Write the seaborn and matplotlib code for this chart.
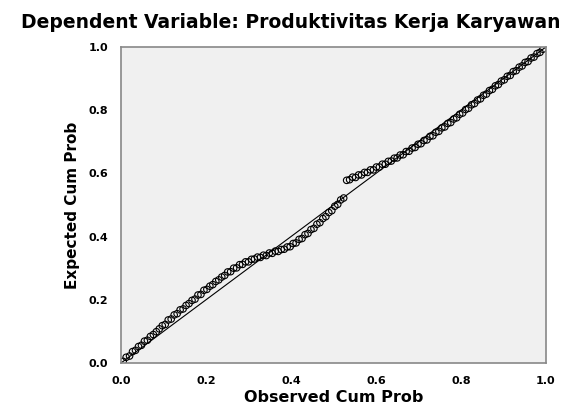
import numpy as np
import pandas as pd
import seaborn as sns
import matplotlib.pyplot as plt

# Normal P-P plot of regression standardized residual
observed = [0.005, 0.012, 0.020, 0.027, 0.034, 0.041, 0.048, 0.055, 0.062, 0.069,
            0.076, 0.083, 0.090, 0.097, 0.104, 0.111, 0.118, 0.125, 0.132, 0.139,
            0.146, 0.153, 0.160, 0.167, 0.174, 0.181, 0.188, 0.195, 0.202, 0.209,
            0.216, 0.223, 0.230, 0.237, 0.244, 0.251, 0.258, 0.265, 0.272, 0.279,
            0.286, 0.293, 0.300, 0.307, 0.314, 0.321, 0.328, 0.335, 0.342, 0.349,
            0.356, 0.363, 0.370, 0.377, 0.384, 0.391, 0.398, 0.405, 0.412, 0.419,
            0.426, 0.433, 0.440, 0.447, 0.454, 0.461, 0.468, 0.475, 0.482, 0.489,
            0.496, 0.503, 0.510, 0.517, 0.524, 0.531, 0.538, 0.545, 0.552, 0.559,
            0.566, 0.573, 0.580, 0.587, 0.594, 0.601, 0.608, 0.615, 0.622, 0.629,
            0.636, 0.643, 0.650, 0.657, 0.664, 0.671, 0.678, 0.685, 0.692, 0.699,
            0.706, 0.713, 0.720, 0.727, 0.734, 0.741, 0.748, 0.755, 0.762, 0.769,
            0.776, 0.783, 0.790, 0.797, 0.804, 0.811, 0.818, 0.825, 0.832, 0.839,
            0.846, 0.853, 0.860, 0.867, 0.874, 0.881, 0.888, 0.895, 0.902, 0.909,
            0.916, 0.923, 0.930, 0.937, 0.944, 0.951, 0.958, 0.965, 0.972, 0.979,
            0.986, 0.993]
expected = [0.005, 0.018, 0.022, 0.036, 0.040, 0.052, 0.056, 0.069, 0.072, 0.084,
            0.090, 0.099, 0.108, 0.118, 0.122, 0.136, 0.139, 0.152, 0.156, 0.168,
            0.171, 0.182, 0.188, 0.198, 0.202, 0.215, 0.217, 0.230, 0.233, 0.243,
            0.248, 0.258, 0.263, 0.272, 0.277, 0.288, 0.289, 0.300, 0.301, 0.311,
            0.312, 0.320, 0.320, 0.328, 0.329, 0.335, 0.334, 0.341, 0.340, 0.348,
            0.347, 0.354, 0.353, 0.359, 0.360, 0.367, 0.368, 0.378, 0.380, 0.391,
            0.394, 0.406, 0.410, 0.422, 0.426, 0.439, 0.444, 0.457, 0.463, 0.476,
            0.482, 0.496, 0.502, 0.516, 0.522, 0.578, 0.580, 0.588, 0.587, 0.595,
            0.595, 0.603, 0.603, 0.611, 0.611, 0.620, 0.620, 0.629, 0.629, 0.638,
            0.639, 0.648, 0.649, 0.658, 0.659, 0.669, 0.670, 0.680, 0.682, 0.692,
            0.694, 0.704, 0.706, 0.717, 0.719, 0.730, 0.733, 0.744, 0.747, 0.758,
            0.761, 0.772, 0.776, 0.787, 0.791, 0.802, 0.806, 0.817, 0.821, 0.832,
            0.836, 0.847, 0.851, 0.862, 0.866, 0.877, 0.881, 0.892, 0.896, 0.907,
            0.910, 0.922, 0.925, 0.936, 0.940, 0.951, 0.954, 0.965, 0.968, 0.979,
            0.983, 0.993]
ref_line = [0.0, 1.0]
tick_vals = [0.0, 0.2, 0.4, 0.6, 0.8, 1.0]
tick_labels = ["0.0", "0.2", "0.4", "0.6", "0.8", "1.0"]

df = pd.DataFrame({"obs": observed, "exp": expected})

sns.set_style("white", {"text.color": "black", "axes.labelcolor": "black",
                        "xtick.color": "black", "ytick.color": "black"})
plt.rcParams['font.family'] = ['DejaVu Sans']

fig = plt.figure(figsize=(5.82, 4.12), dpi=100)
ax = fig.add_axes([0.208, 0.119, 0.730, 0.767])
ax.set_facecolor("#f0f0f0")

sns.lineplot(x=ref_line, y=ref_line, ax=ax, color="black", linewidth=0.8)
sns.scatterplot(data=df, x="obs", y="exp", ax=ax, marker="o",
                facecolors="none", edgecolor="black", linewidth=0.8, s=22)

ax.set_xlim(0, 1)
ax.set_ylim(0, 1)
ax.set_xticks(tick_vals)
ax.set_xticklabels(tick_labels)
ax.set_yticks(tick_vals)
ax.set_yticklabels(tick_labels)
ax.tick_params(axis="both", direction="out", length=6, width=1, color="#444444",
               labelsize=8)
for lab in ax.get_xticklabels() + ax.get_yticklabels():
    lab.set_fontweight("bold")
for sp in ax.spines.values():
    sp.set_color("#888888")
    sp.set_linewidth(1.2)

ax.set_xlabel("Observed Cum Prob", fontsize=11.5, fontweight="bold", labelpad=3)
ax.set_ylabel("Expected Cum Prob", fontsize=11, fontweight="bold", labelpad=6)
fig.text(0.5, 0.945, "Dependent Variable: Produktivitas Kerja Karyawan",
         ha="center", va="center", fontsize=13.5, fontweight="bold")

fig.savefig("out.png", dpi=100)
